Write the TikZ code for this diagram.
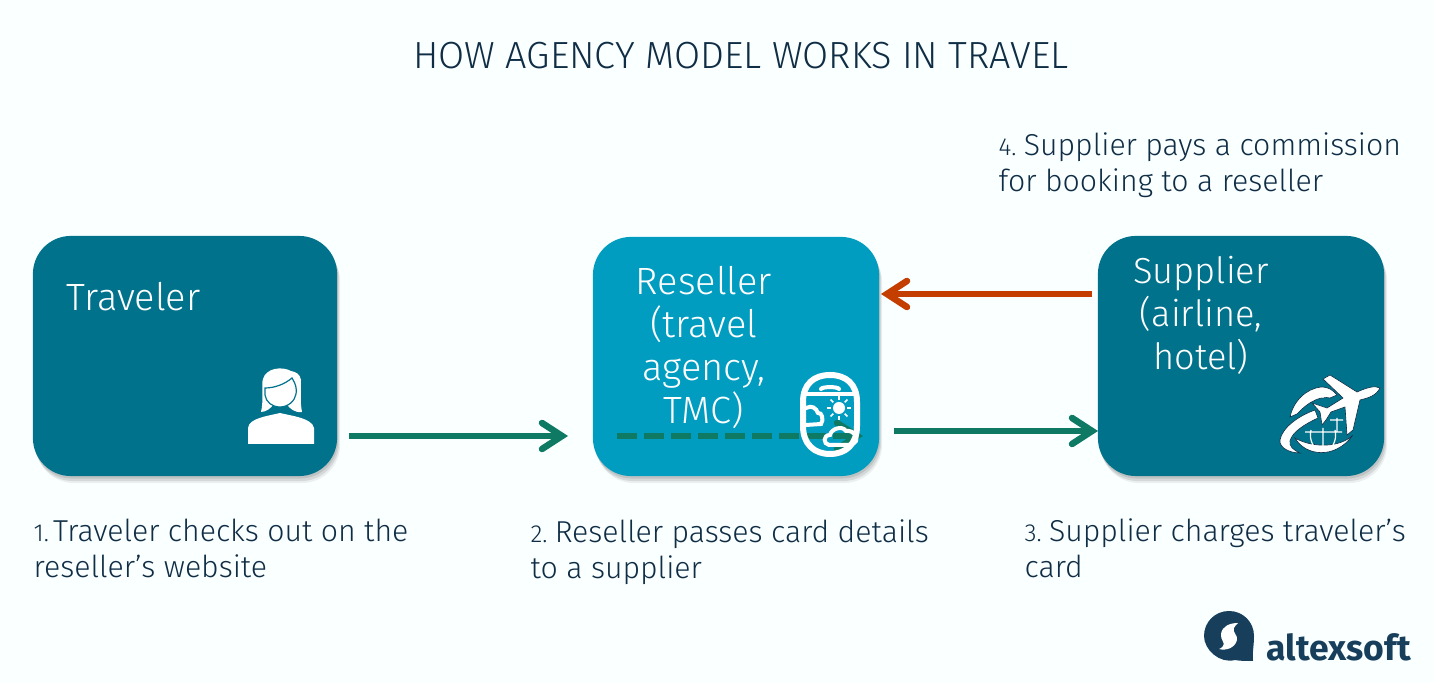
\documentclass[tikz,border=0pt]{standalone}
\usepackage{fontspec}
\setmainfont{Fira Sans Light}
\newfontfamily\logofont{Fira Sans}
\usepackage{xcolor}
\usetikzlibrary{arrows.meta,shadows}
\definecolor{pagebg}{RGB}{250,255,255}
\definecolor{darkteal}{RGB}{0,114,140}
\definecolor{lightteal}{RGB}{0,157,193}
\definecolor{flowgreen}{RGB}{14,122,100}
\definecolor{payorange}{RGB}{196,62,0}
\definecolor{inktext}{RGB}{15,45,69}
\definecolor{logoblue}{RGB}{23,63,92}
\newcommand{\stepnum}[1]{{\fontsize{7}{10}\selectfont #1}\hspace{-0.04cm}}
\tikzset{
  partybox/.style={rounded corners=0.38cm,inner sep=0pt,text width=0pt,
    drop shadow={shadow xshift=0.01cm,shadow yshift=-0.025cm,opacity=.25},
    drop shadow={shadow xshift=0.02cm,shadow yshift=-0.05cm,opacity=.2},
    drop shadow={shadow xshift=0.03cm,shadow yshift=-0.07cm,opacity=.12}},
  boxlabel/.style={text=white,align=center,inner sep=0pt,font=\fontsize{10.8}{12.2}\selectfont},
  steplabel/.style={text=inktext,align=left,anchor=west,inner sep=0pt,font=\fontsize{8.6}{10.25}\selectfont},
  flow/.style={draw=flowgreen,line width=0.065cm,-{Straight Barb[length=0.2cm,width=0.26cm,line cap=round,line width=0.065cm]}},
  payflow/.style={flow,draw=payorange},
  iconline/.style={draw=white,line width=0.04cm,line cap=round},
  globeline/.style={draw=inktext,line width=0.006cm,fill=white}
}
\begin{document}
\begin{tikzpicture}[x=0.01cm,y=-0.01cm]
\fill[pagebg] (0,0) rectangle (1433,683);
\useasboundingbox (0,0) rectangle (1433,683);
\node[partybox,fill=darkteal,minimum width=3.04cm,minimum height=2.40cm] (traveler) at (185,356) {};
\node[partybox,fill=lightteal,minimum width=2.86cm,minimum height=2.39cm] (reseller) at (736,356.5) {};
\node[partybox,fill=darkteal,minimum width=2.86cm,minimum height=2.40cm] (supplier) at (1241,356) {};
\node[text=inktext,inner sep=0pt,font=\fontsize{10.75}{12}\selectfont] (title) at (741,56) {HOW AGENCY MODEL WORKS IN TRAVEL};
\node[boxlabel,anchor=west] (travelername) at (66,297) {Traveler};
\node[boxlabel] (resellername) at (704,347.5) {Reseller\\(travel\\agency,\\TMC)};
\node[boxlabel,font=\fontsize{10.3}{12.2}\selectfont] (suppliername) at (1201,315.5) {Supplier\\(airline,\\hotel)};
\node[steplabel] (step1) at (33,548) {\stepnum{1.}\hspace{-0.03cm} Traveler checks out on the\\reseller’s website};
\node[steplabel] (step2) at (530,552) {\stepnum{2.} Reseller passes card details\\to a supplier};
\node[steplabel] (step3) at (1024,548) {\stepnum{3.} Supplier charges traveler’s\\card};
\node[steplabel] (step4) at (998,165) {\stepnum{4.} Supplier pays a commission\\for booking to a reseller};
\coordinate (a1) at (349,436);
\coordinate (a2) at (568,436);
\coordinate (b1) at (617,436);
\coordinate (b2) at (863,436);
\coordinate (c1) at (894,431);
\coordinate (c2) at (1098,431);
\coordinate (d1) at (1092,294);
\coordinate (d2) at (881,294);
\draw[flow] (a1)--(a2);
\draw[flow,dash pattern=on 0.20cm off 0.07cm] (b1)--(b2);
\draw[flow] (c1)--(c2);
\draw[payflow] (d1)--(d2);
% traveler icon
\fill[white] (248,444)--(248,428) .. controls (249,418) and (268,416) .. (280,413) .. controls (292,416) and (312,418) .. (314,428)--(314,444)--cycle;
\fill[white] (261,412) .. controls (264,400) and (261,385) .. (263,379) .. controls (266,368) and (282,366) .. (291,371) .. controls (296,372) and (300,374) .. (301,380) .. controls (301,392) and (300,402) .. (302,412) .. controls (294,413) and (290,408) .. (287,405)--(273,405) .. controls (271,408) and (266,412) .. (261,412)--cycle;
\draw[draw=darkteal,line width=0.012cm,fill=white] (265,388) .. controls (275,388) and (285,384) .. (292,378) .. controls (296,384) and (297,390) .. (296,394) .. controls (295,401) and (288,407) .. (280,407) .. controls (272,407) and (266,402) .. (265,395)--cycle;
% window icon
\draw[white,line width=0.06cm] (803,402) .. controls (803,384) and (814,375) .. (830,375) .. controls (846,375) and (857,384) .. (857,402)--(857,426) .. controls (857,444) and (846,454) .. (830,454) .. controls (814,454) and (803,444) .. (803,426)--cycle;
\draw[iconline] (805,394)--(855,394);
\draw[iconline] (821,389) .. controls (822,386.5) and (838,386.5) .. (839,389);
\fill[white] (839,408) circle (6);
\foreach \a in {0,45,...,315}{\draw[white,line width=0.016cm] (839,408)++(\a:8)--++(\a:4);}
\draw[iconline] (806,408) .. controls (812,405) and (816,408) .. (818,413) .. controls (822,412) and (824,420) .. (821,424)--(806,425);
\draw[iconline] (829,445) .. controls (823,444) and (823,435) .. (830,435) .. controls (831,429) and (842,425) .. (846,431) .. controls (854,430) and (858,437) .. (856,441) .. controls (854,444) and (850,445) .. (846,445)--cycle;
% supplier icon
\draw[globeline] (1290,417) .. controls (1293,402) and (1306,388) .. (1322,387) .. controls (1328,387) and (1333,390) .. (1337,395)--(1330,398) .. controls (1322,396) and (1310,400) .. (1297,414)--cycle;
\draw[globeline] (1295,438) .. controls (1305,456) and (1335,460) .. (1353,435) .. controls (1340,448) and (1312,448) .. (1295,438)--cycle;
\draw[white,line width=0.012cm] (1323,388)--(1323,398) (1305,432)--(1342,432) (1323,428)--(1323,450) (1311,430) .. controls (1309,438) and (1312,446) .. (1318,451) (1335,430) .. controls (1337,438) and (1334,446) .. (1328,451) (1330,420)--(1343,420) (1337,418)--(1337,432);
\draw[globeline] (1315,410) .. controls (1298,416) and (1282,428) .. (1280,440) .. controls (1279,448) and (1290,453) .. (1300,453) .. controls (1293,450) and (1289,446) .. (1290,441) .. controls (1292,432) and (1305,424) .. (1318,418)--cycle;
\draw[globeline] (1380,388) .. controls (1375,385) and (1366,388) .. (1357,392)--(1330,375)--(1323,379)--(1343,398)--(1327,408)--(1312,403)--(1320,412)--(1322,425)--(1326,420)--(1331,412)--(1345,407)--(1347,435)--(1353,430)--(1360,400) .. controls (1368,398) and (1376,396) .. (1380,388)--cycle;
% logo
\fill[logoblue] (1253,661) .. controls (1245,661) and (1240,661) .. (1235,660) .. controls (1220,664) and (1204,650) .. (1204,636) .. controls (1204,622) and (1215,611) .. (1229,611) .. controls (1243,611) and (1254,622) .. (1254,636) .. controls (1254,646) and (1252,654) .. (1253,661)--cycle;
\fill[white] (1238,623) .. controls (1230,623) and (1222,626) .. (1221,634) .. controls (1220,640) and (1226,643) .. (1223,646) .. controls (1222,648) and (1221,648) .. (1219,649) .. controls (1226,651) and (1235,648) .. (1237,640) .. controls (1238,635) and (1232,632) .. (1234,628) .. controls (1235,626) and (1236,625) .. (1238,623)--cycle;
\node[text=logoblue,anchor=base west,inner sep=0pt,font=\logofont\bfseries\fontsize{10.1}{12}\selectfont] (logotext) at (1266,661) {altexsoft};
\end{tikzpicture}
\end{document}
